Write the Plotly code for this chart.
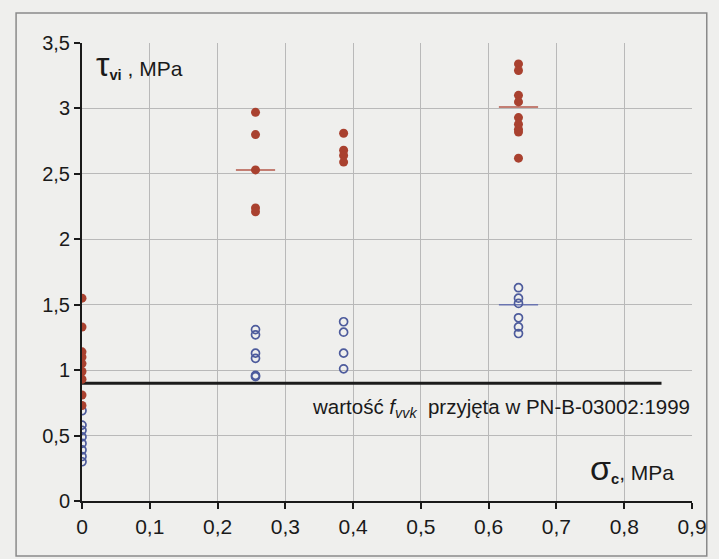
import plotly.graph_objects as go

# ---- data ----
x_groups = [0.0, 0.256, 0.386, 0.644]
red_values = [
    [1.55, 1.33, 1.14, 1.10, 1.05, 0.99, 0.93, 0.81, 0.73],
    [2.97, 2.80, 2.53, 2.24, 2.21],
    [2.81, 2.68, 2.64, 2.59],
    [3.34, 3.29, 3.10, 3.05, 2.93, 2.88, 2.84, 2.82, 2.62],
]
blue_values = [
    [0.69, 0.58, 0.54, 0.49, 0.44, 0.39, 0.34, 0.30],
    [1.31, 1.27, 1.13, 1.09, 0.96, 0.95],
    [1.37, 1.29, 1.13, 1.01],
    [1.63, 1.55, 1.51, 1.40, 1.33, 1.28],
]
mean_x = [0.256, 0.644, 0.644]
mean_y = [2.53, 3.01, 1.50]
mean_colors = ["#b5594a", "#b5594a", "#6a74b0"]
fvvk_x = [0.0, 0.855]
fvvk_y = [0.9, 0.9]
x_ticks = [0, 0.1, 0.2, 0.3, 0.4, 0.5, 0.6, 0.7, 0.8, 0.9]
x_ticktext = ["0", "0,1", "0,2", "0,3", "0,4", "0,5", "0,6", "0,7", "0,8", "0,9"]
y_ticks = [0, 0.5, 1, 1.5, 2, 2.5, 3, 3.5]
y_ticktext = ["0", "0,5", "1", "1,5", "2", "2,5", "3", "3,5"]

rx, ry, bx, by = [], [], [], []
for xg, rv, bv in zip(x_groups, red_values, blue_values):
    rx += [xg] * len(rv); ry += rv
    bx += [xg] * len(bv); by += bv

fig = go.Figure()
fig.add_trace(go.Scatter(x=fvvk_x, y=fvvk_y, mode="lines",
                         line=dict(color="#1c1c1c", width=3), hoverinfo="skip"))
fig.add_trace(go.Scatter(x=mean_x, y=mean_y, mode="markers",
                         marker=dict(symbol="line-ew", size=28,
                                     line=dict(color=mean_colors, width=1.5))))
fig.add_trace(go.Scatter(x=bx, y=by, mode="markers",
                         marker=dict(symbol="circle-open", size=8,
                                     color="#4d5b9c", line=dict(width=1.7))))
fig.add_trace(go.Scatter(x=rx, y=ry, mode="markers",
                         marker=dict(symbol="circle", size=9, color="#a9412f")))

L, R, T, B = 82, 17, 43, 58
pw, ph = 719 - L - R, 559 - T - B

def px2paper(px, py):
    return (px - L) / pw, (559 - B - py) / ph

x0, y1 = px2paper(15, 13)
x1, y0 = px2paper(717, 556)

fig.update_layout(
    width=719, height=559,
    margin=dict(l=L, r=R, t=T, b=B),
    paper_bgcolor="#efefed", plot_bgcolor="#efefed",
    showlegend=False,
    font=dict(family="Liberation Sans", size=21, color="#1a1a1a"),
    xaxis=dict(range=[0, 0.9], tickvals=x_ticks, ticktext=x_ticktext,
               showgrid=True, gridcolor="#b9b9b9", gridwidth=1,
               zeroline=False, showline=True, linecolor="#1a1a1a", linewidth=2,
               ticks="outside", ticklen=6, tickcolor="#1a1a1a", tickwidth=2,
               tickfont=dict(family="Liberation Sans", size=21)),
    yaxis=dict(range=[0, 3.5], tickvals=y_ticks, ticktext=y_ticktext,
               showgrid=True, gridcolor="#b9b9b9", gridwidth=1,
               zeroline=False, showline=True, linecolor="#1a1a1a", linewidth=2,
               ticks="outside", ticklen=6, tickcolor="#1a1a1a", tickwidth=2,
               tickfont=dict(family="Liberation Sans", size=20)),
    shapes=[dict(type="rect", xref="paper", yref="paper",
                 x0=x0, x1=x1, y0=y0, y1=y1,
                 line=dict(color="#8a8a8a", width=1.5), layer="below")],
    annotations=[
        dict(xref="paper", yref="paper", x=px2paper(94, 64)[0], y=px2paper(94, 64)[1],
             xanchor="left", yanchor="middle", showarrow=False,
             text="<span style='font-size:34px'>τ</span><sub><b>vi</b></sub> , MPa",
             font=dict(family="Liberation Sans", size=21)),
        dict(xref="paper", yref="paper", x=px2paper(686, 468)[0], y=px2paper(686, 468)[1],
             xanchor="right", yanchor="middle", showarrow=False,
             text="<span style='font-size:34px'>σ</span><sub><b>c</b></sub>, MPa",
             font=dict(family="Liberation Sans", size=21)),
        dict(x=0.9, y=0.71, xanchor="right", yanchor="middle", showarrow=False,
             text="wartość <i>f</i><sub><i>vvk</i></sub>  przyjęta w PN-B-03002:1999",
             font=dict(family="Liberation Sans", size=20.5)),
    ],
)

fig.write_html("out.html")
